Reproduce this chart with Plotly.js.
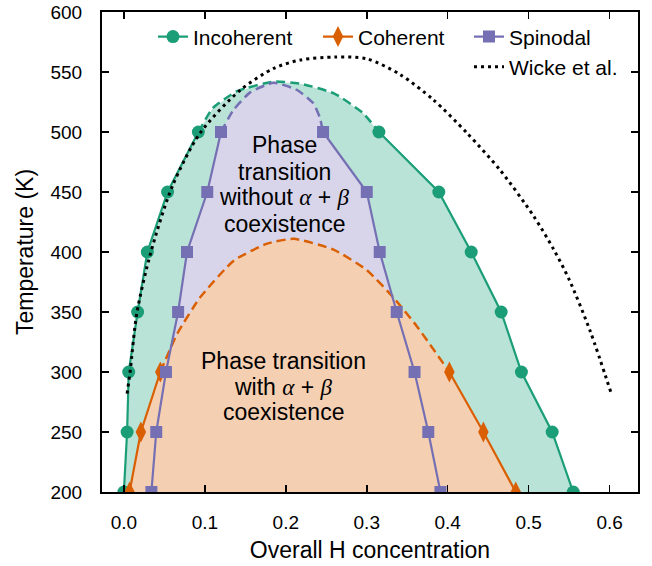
<!DOCTYPE html>
<html>
<head>
<meta charset="utf-8">
<script src="https://cdn.plot.ly/plotly-3.0.1.min.js"></script>
<style>html,body{margin:0;padding:0;background:#fff;}#chart{width:652px;height:566px;}</style>
</head>
<body>
<div id="chart"></div>
<script>
// ---- data ----
const incLeftX  = [0.000, 0.004, 0.006, 0.017, 0.029, 0.054, 0.092];
const incLeftT  = [200, 250, 300, 350, 400, 450, 500];
const incTopX   = [0.092, 0.110, 0.140, 0.185, 0.220, 0.260, 0.295, 0.315];
const incTopT   = [500, 520, 534, 542, 540, 532, 516, 500];
const incRightX = [0.315, 0.389, 0.429, 0.466, 0.491, 0.529, 0.555];
const incRightT = [500, 450, 400, 350, 300, 250, 200];

const cohLeftX  = [0.007, 0.021, 0.045];
const cohLeftT  = [200, 250, 300];
const cohTopX   = [0.045, 0.066, 0.094, 0.136, 0.177, 0.210, 0.259, 0.300, 0.333, 0.362, 0.402];
const cohTopT   = [300, 332, 362, 393, 407, 411, 402, 385, 362, 338, 300];
const cohRightX = [0.402, 0.444, 0.484];
const cohRightT = [300, 250, 200];

const spiLeftX  = [0.034, 0.040, 0.052, 0.067, 0.078, 0.103, 0.120];
const spiLeftT  = [200, 250, 300, 350, 400, 450, 500];
const spiTopX   = [0.120, 0.135, 0.156, 0.185, 0.214, 0.234, 0.242, 0.246];
const spiTopT   = [500, 518, 533, 541, 535, 524, 512, 500];
const spiRightX = [0.246, 0.300, 0.316, 0.337, 0.359, 0.376, 0.391];
const spiRightT = [500, 450, 400, 350, 300, 250, 200];

const wickeX = [0.004, 0.008, 0.016, 0.033, 0.060, 0.094, 0.144, 0.185, 0.218, 0.261, 0.300, 0.341, 0.382, 0.424, 0.465, 0.506, 0.531, 0.550, 0.576, 0.602];
const wickeT = [282, 302, 349, 399, 455, 499, 535, 553, 560, 562.5, 561, 548, 527, 499, 468, 430, 402, 377, 334, 282];

const xTicks = [0, 0.1, 0.2, 0.3, 0.4, 0.5, 0.6];
const yTicks = [200, 250, 300, 350, 400, 450, 500, 550, 600];

// ---- styles ----
const GREEN = '#1b9e77', ORANGE = '#d95f02', PURPLE = '#7570b3';
const FONT = 'Liberation Sans, Arial, Helvetica, sans-serif';

function poly(lx, ly, tx, ty, rx, ry) {
  return {x: lx.concat(tx.slice(1), rx.slice(1)), y: ly.concat(ty.slice(1), ry.slice(1))};
}
const incPoly = poly(incLeftX, incLeftT, incTopX, incTopT, incRightX, incRightT);
const spiPoly = poly(spiLeftX, spiLeftT, spiTopX, spiTopT, spiRightX, spiRightT);
const cohPoly = poly(cohLeftX, cohLeftT, cohTopX, cohTopT, cohRightX, cohRightT);

function fillTrace(p, color) {
  return {x: p.x, y: p.y, type: 'scatter', mode: 'lines', fill: 'toself', fillcolor: color,
          line: {width: 0, color: color}, hoverinfo: 'skip', showlegend: false};
}
function dashTrace(x, y, color) {
  return {x: x, y: y, type: 'scatter', mode: 'lines', line: {color: color, width: 2.5, dash: '9px,5px', shape: 'spline', smoothing: 0.5},
          showlegend: false, hoverinfo: 'skip'};
}
function branch(x, y, color, symbol, size, name, legendId, show) {
  return {x: x, y: y, type: 'scatter', mode: 'lines+markers', name: name,
          line: {color: color, width: 2.2},
          marker: {color: color, symbol: symbol, size: size, line: {width: 0}},
          showlegend: show, legend: legendId};
}

const traces = [
  fillTrace(incPoly, '#b9e3d6'),
  fillTrace(spiPoly, '#d8d5ea'),
  fillTrace(cohPoly, '#f5cfb2'),
  dashTrace(incTopX, incTopT, GREEN),
  dashTrace(spiTopX, spiTopT, PURPLE),
  dashTrace(cohTopX, cohTopT, ORANGE),
  branch(incLeftX, incLeftT, GREEN, 'circle', 13, 'Incoherent', 'legend', true),
  branch(incRightX, incRightT, GREEN, 'circle', 13, 'Incoherent', 'legend', false),
  branch(cohLeftX, cohLeftT, ORANGE, 'diamond-tall', 15, 'Coherent', 'legend2', true),
  branch(cohRightX, cohRightT, ORANGE, 'diamond-tall', 15, 'Coherent', 'legend2', false),
  branch(spiLeftX, spiLeftT, PURPLE, 'square', 12, 'Spinodal', 'legend3', true),
  branch(spiRightX, spiRightT, PURPLE, 'square', 12, 'Spinodal', 'legend3', false),
  {x: wickeX, y: wickeT, type: 'scatter', mode: 'lines', name: 'Wicke et al.',
   line: {color: '#000', width: 3, dash: '3px,4px', shape: 'spline', smoothing: 0.8}, legend: 'legend4'}
];

const serif = s => '<span style="font-family:\'Liberation Serif\', serif"><i>' + s + '</i></span>';
const ab = serif('α') + ' + ' + serif('β');

function ann(text, x, y) {
  return {text: text, x: x, y: y, xref: 'x', yref: 'y', showarrow: false, xanchor: 'center', yanchor: 'middle',
          font: {family: FONT, size: 23, color: '#000'}};
}

const legBase = {xanchor: 'left', yanchor: 'middle', bgcolor: 'rgba(0,0,0,0)', borderwidth: 0,
                 font: {family: FONT, size: 21, color: '#000'}, itemwidth: 30};

const layout = {
  width: 652, height: 566,
  margin: {l: 102, r: 14, t: 12, b: 74},
  paper_bgcolor: '#fff', plot_bgcolor: '#fff',
  font: {family: FONT, color: '#000'},
  xaxis: {range: [-0.027, 0.635], tickvals: xTicks, tickformat: '.1f', ticks: 'inside', ticklen: 7, tickwidth: 1.5,
          tickcolor: '#000', showline: true, linewidth: 2, linecolor: '#000', mirror: 'ticks', showgrid: false, zeroline: false,
          tickfont: {size: 19, family: FONT}, ticklabelstandoff: 12,
          title: {text: 'Overall H concentration', font: {size: 23, family: FONT}, standoff: 10}},
  yaxis: {range: [200, 600], tickvals: yTicks, ticks: 'inside', ticklen: 7, tickwidth: 1.5,
          tickcolor: '#000', showline: true, linewidth: 2, linecolor: '#000', mirror: 'ticks', showgrid: false, zeroline: false,
          tickfont: {size: 19, family: FONT}, ticklabelstandoff: 14,
          title: {text: 'Temperature (K)', font: {size: 23, family: FONT}, standoff: 10}},
  legend:  Object.assign({}, legBase, {x: 0.0951, y: 0.948}),
  legend2: Object.assign({}, legBase, {x: 0.403, y: 0.948}),
  legend3: Object.assign({}, legBase, {x: 0.6847, y: 0.948}),
  legend4: Object.assign({}, legBase, {x: 0.6847, y: 0.885}),
  annotations: [
    ann('Phase', 0.198, 489),
    ann('transition', 0.198, 466.5),
    ann('without ' + ab, 0.198, 445.5),
    ann('coexistence', 0.198, 423),
    ann('Phase transition', 0.197, 309),
    ann('with ' + ab, 0.197, 287.5),
    ann('coexistence', 0.197, 266.5)
  ],
  showlegend: true
};

Plotly.newPlot('chart', traces, layout, {displayModeBar: false, staticPlot: true});
</script>
</body>
</html>
